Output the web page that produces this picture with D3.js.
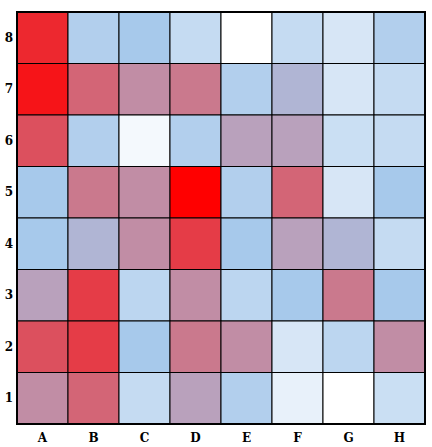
<!DOCTYPE html>
<html>
<head>
<meta charset="utf-8">
<script src="https://cdnjs.cloudflare.com/ajax/libs/d3/7.8.5/d3.min.js"></script>
<style>
  body { margin: 0; background: #fff; }
  .axis text { font-family: "DejaVu Serif", serif; font-weight: bold; font-size: 12px; fill: #000; }
  .axis path, .axis line { display: none; }
</style>
</head>
<body>
<script>
var w = 432;
var h = 447;

var margin = {top: 12, right: 7, bottom: 23, left: 17};

var files = ["A", "B", "C", "D", "E", "F", "G", "H"];
var ranks = ["8", "7", "6", "5", "4", "3", "2", "1"];

// one row per rank, top (8) to bottom (1), values per file A..H
var rank8 = [90, 44, 50, 33, 0, 33, 23, 44];
var rank7 = [95, 75, 65, 70, 44, 55, 23, 33];
var rank6 = [80, 44, 6, 44, 60, 60, 30, 33];
var rank5 = [50, 70, 65, 100, 44, 75, 23, 50];
var rank4 = [50, 55, 65, 85, 50, 60, 55, 33];
var rank3 = [60, 85, 38, 65, 38, 50, 70, 50];
var rank2 = [80, 85, 50, 70, 65, 23, 38, 65];
var rank1 = [65, 75, 33, 60, 44, 13, 0, 30];

var rows = [rank8, rank7, rank6, rank5, rank4, rank3, rank2, rank1];

var cells = [];
rows.forEach(function(r, i) {
  r.forEach(function(v, j) {
    cells.push({file: files[j], rank: ranks[i], value: v});
  });
});

var width = w - margin.left - margin.right,
    height = h - margin.top - margin.bottom;

var svg = d3.select("body").append("svg")
    .attr("width", w)
    .attr("height", h)
  .append("g")
    .attr("transform", "translate(" + margin.left + "," + margin.top + ")");

var x = d3.scaleBand().domain(files).range([0, width]);
var y = d3.scaleBand().domain(ranks).range([0, height]);

var color = d3.scaleLinear()
    .domain([0, 50, 100])
    .range(["#ffffff", "#a7c9eb", "#ff0000"]);

// squares
svg.selectAll(".cell")
    .data(cells)
    .enter().append("rect")
    .attr("class", "cell")
    .attr("x", function(d) { return x(d.file); })
    .attr("y", function(d) { return y(d.rank); })
    .attr("width", x.bandwidth())
    .attr("height", y.bandwidth())
    .attr("fill", function(d) { return color(d.value); })
    .attr("stroke", "#000")
    .attr("stroke-width", 1);

// outer frame
svg.append("rect")
    .attr("x", 0)
    .attr("y", 0)
    .attr("width", width)
    .attr("height", height)
    .attr("fill", "none")
    .attr("stroke", "#000")
    .attr("stroke-width", 2);

// file labels
svg.append("g")
    .attr("class", "axis")
    .attr("transform", "translate(0," + height + ")")
    .call(d3.axisBottom(x).tickSize(0).tickPadding(9));

// rank labels
svg.append("g")
    .attr("class", "axis")
    .call(d3.axisLeft(y).tickSize(0).tickPadding(4));
</script>
</body>
</html>
